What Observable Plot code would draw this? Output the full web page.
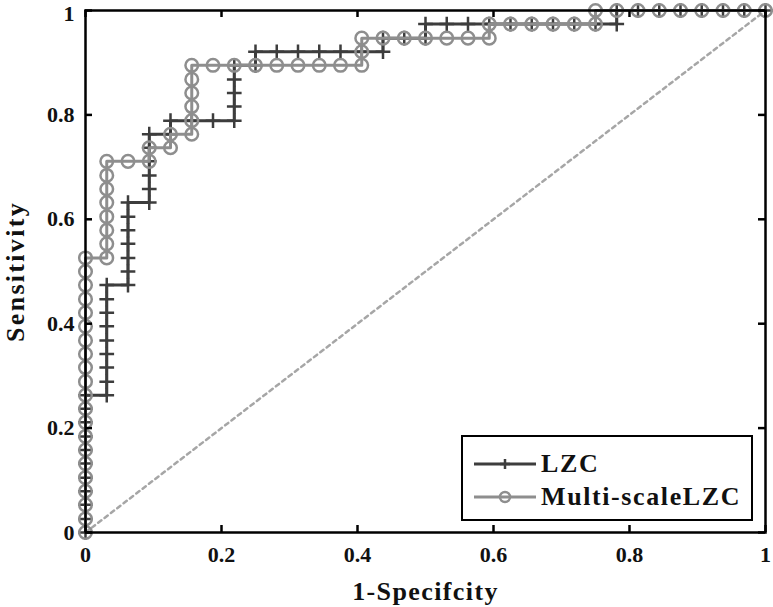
<!DOCTYPE html>
<html>
<head>
<meta charset="utf-8">
<script src="https://cdn.jsdelivr.net/npm/d3@7"></script>
<script src="https://cdn.jsdelivr.net/npm/@observablehq/plot@0.6"></script>
<style>
  html, body { margin: 0; padding: 0; background: white; }
  #wrap { position: relative; width: 773px; height: 607px; font-family: "Liberation Serif", "Times New Roman", serif; }
  #legend { position: absolute; left: 461px; top: 435px; width: 288px; height: 82px; border: 2.5px solid #000; background: #fff; box-sizing: content-box; }
  .row { position: absolute; left: 10px; height: 30px; display: flex; align-items: center; }
  .row span { font-weight: bold; font-size: 26px; color: #111; letter-spacing: 1.6px; margin-left: 4px; }
</style>
</head>
<body>
<div id="wrap"></div>
<script>
// ROC curve points (1-Specificity, Sensitivity)
const lzcFpr = [0,0,0,0,0,0,0,0,0,0,0,
  0.03125,0.03125,0.03125,0.03125,0.03125,0.03125,0.03125,0.03125,0.03125,
  0.0625,0.0625,0.0625,0.0625,0.0625,0.0625,0.0625,
  0.09375,0.09375,0.09375,0.09375,0.09375,0.09375,
  0.125,0.125,0.15625,0.1875,
  0.21875,0.21875,0.21875,0.21875,0.21875,
  0.25,0.25,0.28125,0.3125,0.34375,0.375,0.40625,
  0.4375,0.4375,0.46875,0.5,0.5,
  0.53125,0.5625,0.59375,0.625,0.65625,0.6875,0.71875,0.75,
  0.78125,0.78125,0.8125,0.84375,0.875,0.90625,0.9375,0.96875,1];
const lzcTpr = [0,0.026,0.053,0.079,0.105,0.132,0.158,0.184,0.211,0.237,0.263,
  0.263,0.289,0.316,0.342,0.368,0.395,0.421,0.447,0.474,
  0.474,0.5,0.526,0.553,0.579,0.605,0.632,
  0.632,0.658,0.684,0.711,0.737,0.763,
  0.763,0.789,0.789,0.789,
  0.789,0.816,0.842,0.868,0.895,
  0.895,0.921,0.921,0.921,0.921,0.921,0.921,
  0.921,0.947,0.947,0.947,0.974,
  0.974,0.974,0.974,0.974,0.974,0.974,0.974,0.974,
  0.974,1,1,1,1,1,1,1,1];

const msFpr = [0,0,0,0,0,0,0,0,0,0,0,0,0,0,0,0,0,0,0,0,0,
  0.03125,0.03125,0.03125,0.03125,0.03125,0.03125,0.03125,0.03125,
  0.0625,0.09375,0.09375,0.125,0.125,
  0.15625,0.15625,0.15625,0.15625,0.15625,0.15625,
  0.1875,0.21875,0.25,0.28125,0.3125,0.34375,0.375,0.40625,0.40625,0.40625,
  0.4375,0.46875,0.5,0.53125,0.5625,0.59375,0.59375,
  0.625,0.65625,0.6875,0.71875,0.75,0.75,
  0.78125,0.8125,0.84375,0.875,0.90625,0.9375,0.96875,1];
const msTpr = [0,0.026,0.053,0.079,0.105,0.132,0.158,0.184,0.211,0.237,0.263,0.289,0.316,0.342,0.368,0.395,0.421,0.447,0.474,0.5,0.526,
  0.526,0.553,0.579,0.605,0.632,0.658,0.684,0.711,
  0.711,0.711,0.737,0.737,0.763,
  0.763,0.789,0.816,0.842,0.868,0.895,
  0.895,0.895,0.895,0.895,0.895,0.895,0.895,0.895,0.921,0.947,
  0.947,0.947,0.947,0.947,0.947,0.947,0.974,
  0.974,0.974,0.974,0.974,0.974,1,
  1,1,1,1,1,1,1,1];

const chanceLine = [0, 1];
const xTicks = [0, 0.2, 0.4, 0.6, 0.8, 1];
const yTicks = [0, 0.2, 0.4, 0.6, 0.8, 1];
const xLabel = "1-Specifcity";
const yLabel = "Sensitivity";
const seriesNames = ["LZC", "Multi-scaleLZC"];

const lzc = lzcFpr.map((x, i) => ({x, y: lzcTpr[i]}));
const ms = msFpr.map((x, i) => ({x, y: msTpr[i]}));

const darkC = "#3d3d3d";
const grayC = "#8e8e8e";

const W = 773, H = 607, mL = 85, mR = 8, mT = 10, mB = 75;
const fw = W - mL - mR, fh = H - mT - mB, tl = 7;

const chart = Plot.plot({
  width: W, height: H,
  marginLeft: mL, marginRight: mR, marginTop: mT, marginBottom: mB,
  x: {domain: [0, 1], ticks: xTicks, tickSize: 0, tickPadding: 14, tickFormat: d => String(d), label: null},
  y: {domain: [0, 1], ticks: yTicks, tickSize: 0, tickPadding: 11, tickFormat: d => String(d), label: null},
  style: {fontFamily: "'Liberation Serif', 'Times New Roman', serif", fontWeight: "bold", fontSize: "22px", color: "#111", background: "white", overflow: "visible"},
  marks: [
    Plot.line(chanceLine, {x: d => d, y: d => d, stroke: "#a6a6a6", strokeWidth: 2.5, strokeDasharray: "4,4"}),
    Plot.line(lzc, {x: "x", y: "y", stroke: darkC, strokeWidth: 3}),
    Plot.dot(lzc, {x: "x", y: "y", symbol: "plus", r: 4.8, stroke: darkC, strokeWidth: 2.5}),
    Plot.line(ms, {x: "x", y: "y", stroke: grayC, strokeWidth: 3}),
    Plot.dot(ms, {x: "x", y: "y", symbol: "circle", r: 6.3, stroke: grayC, strokeWidth: 2.5, fill: "none"}),
    Plot.ruleX(xTicks, {x: d => d, insetTop: fh - tl, stroke: "#000", strokeWidth: 2.5}),
    Plot.ruleX(xTicks, {x: d => d, insetBottom: fh - tl, stroke: "#000", strokeWidth: 2.5}),
    Plot.ruleY(yTicks, {y: d => d, insetRight: fw - tl, stroke: "#000", strokeWidth: 2.5}),
    Plot.ruleY(yTicks, {y: d => d, insetLeft: fw - tl, stroke: "#000", strokeWidth: 2.5}),
    Plot.frame({stroke: "#000", strokeWidth: 2.5}),
    Plot.text([xLabel], {text: d => d, frameAnchor: "bottom", dy: 67, fontSize: 26, fontWeight: "bold", fill: "#111"}),
    Plot.text([yLabel], {text: d => d, frameAnchor: "left", textAnchor: "middle", rotate: -90, dx: -70, fontSize: 26, fontWeight: "bold", fill: "#111"})
  ]
});

// letter spacing on axis titles; nudge the top y tick label inside the picture
d3.select(chart).selectAll("text").each(function () {
  const t = this.textContent;
  if (t === xLabel) this.setAttribute("letter-spacing", "1.4");
  if (t === yLabel) this.setAttribute("letter-spacing", "2.3");
});
d3.select(chart).selectAll('g[aria-label="y-axis tick label"] text').each(function () {
  if (this.textContent === "1") {
    const tr = this.getAttribute("transform") || "";
    this.setAttribute("transform", tr + " translate(0,3)");
  }
});

const wrap = document.getElementById("wrap");
wrap.appendChild(chart);

// Legend
const legend = document.createElement("div");
legend.id = "legend";
const ns = "http://www.w3.org/2000/svg";
seriesNames.forEach((name, i) => {
  const row = document.createElement("div");
  row.className = "row";
  row.style.top = (i === 0 ? 12 : 45) + "px";
  const s = document.createElementNS(ns, "svg");
  s.setAttribute("width", 64); s.setAttribute("height", 30);
  const ln = document.createElementNS(ns, "line");
  ln.setAttribute("x1", 1); ln.setAttribute("x2", 63); ln.setAttribute("y1", 15); ln.setAttribute("y2", 15);
  ln.setAttribute("stroke", i === 0 ? darkC : grayC); ln.setAttribute("stroke-width", 3);
  s.appendChild(ln);
  if (i === 0) {
    const p = document.createElementNS(ns, "path");
    p.setAttribute("d", "M32,10V20M27,15H37");
    p.setAttribute("stroke", darkC); p.setAttribute("stroke-width", 2.5);
    s.appendChild(p);
  } else {
    const c = document.createElementNS(ns, "circle");
    c.setAttribute("cx", 32); c.setAttribute("cy", 15); c.setAttribute("r", 5);
    c.setAttribute("stroke", grayC); c.setAttribute("stroke-width", 2.5); c.setAttribute("fill", "none");
    s.appendChild(c);
  }
  row.appendChild(s);
  const t = document.createElement("span");
  t.textContent = name;
  row.appendChild(t);
  legend.appendChild(row);
});
wrap.appendChild(legend);
</script>
</body>
</html>
